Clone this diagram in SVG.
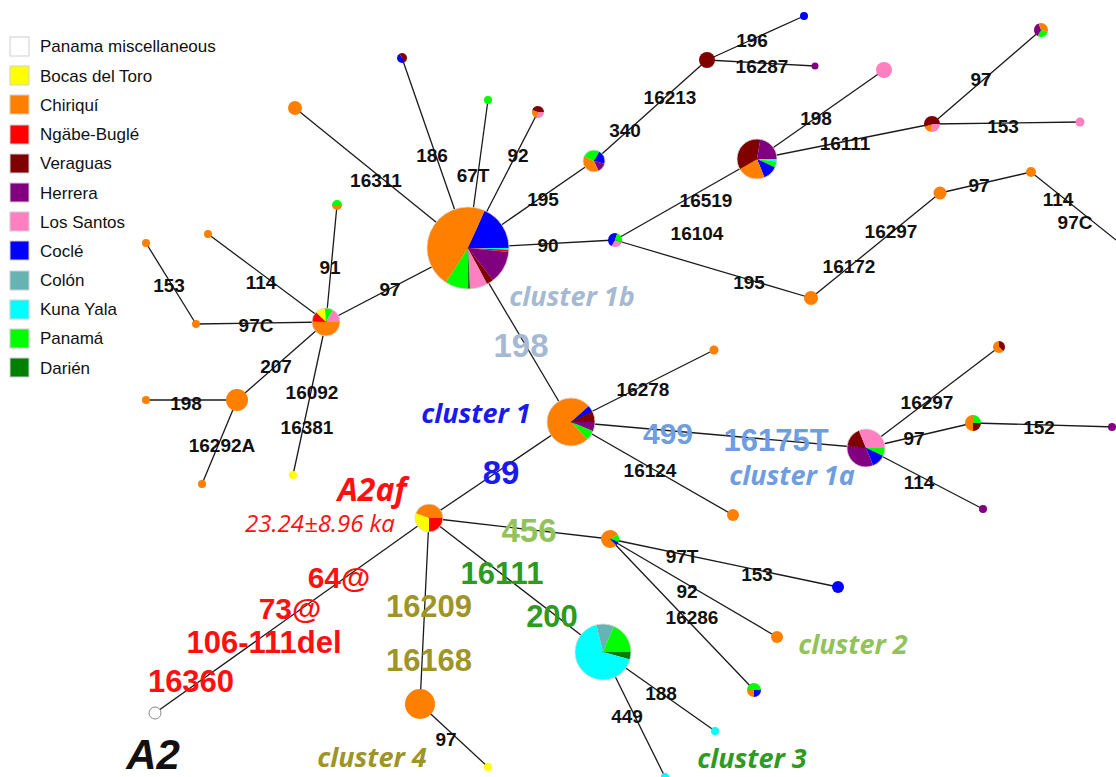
<svg xmlns="http://www.w3.org/2000/svg" width="1116" height="777" viewBox="0 0 1116 777">
<style>
.bg{fill:#fff}
.e{stroke:#1a1a1a;stroke-width:1.3;fill:none}
.lg rect{stroke:#d0d0d0;stroke-width:1}
.lg text{font-family:"Liberation Sans",Arial,sans-serif;font-size:17px;fill:#111}
.l{font-family:"Liberation Sans",Arial,sans-serif;font-weight:bold;font-size:19px;fill:#111;text-anchor:middle}
.b{font-family:"Liberation Sans",Arial,sans-serif;font-weight:bold;font-size:31px;text-anchor:middle}
.c{font-family:"Open Sans","Liberation Sans",sans-serif;font-weight:bold;font-style:italic;font-size:27px;text-anchor:middle}
.s{fill:none}
.o{fill:none;stroke:#d8d8d8;stroke-width:0.8}
.fw{fill:#fff}.fby{fill:#ffff00}.fch{fill:#ff8000}.fng{fill:#ff0000}.fve{fill:#800000}.fhe{fill:#800080}.fls{fill:#ff80c0}.fco{fill:#0000ff}.fcl{fill:#66b3b3}.fky{fill:#00ffff}.fpa{fill:#00ff00}.fda{fill:#008000}
.sby{stroke:#ffff00}.sch{stroke:#ff8000}.sng{stroke:#ff0000}.sve{stroke:#800000}.she{stroke:#800080}.sls{stroke:#ff80c0}.sco{stroke:#0000ff}.scl{stroke:#66b3b3}.sky{stroke:#00ffff}.spa{stroke:#00ff00}.sda{stroke:#008000}
.k1b{fill:#a6b9d3}.k1{fill:#1a1aee}.k1a{fill:#6e9de0}.k2{fill:#92c35a}.k3{fill:#2f9a20}.k4{fill:#9e9428}.kr{fill:#ff1010}
</style>
<rect class="bg" x="0" y="0" width="1116" height="777"/>

<g id="legend" class="lg">
<rect class="fw" x="10" y="37" width="19" height="19"/><text x="40" y="52">Panama miscellaneous</text>
<rect class="fby" x="10" y="66" width="19" height="19"/><text x="40" y="82">Bocas del Toro</text>
<rect class="fch" x="10" y="95" width="19" height="19"/><text x="40" y="111">Chiriquí</text>
<rect class="fng" x="10" y="125" width="19" height="19"/><text x="40" y="140">Ngäbe-Buglé</text>
<rect class="fve" x="10" y="154" width="19" height="19"/><text x="40" y="169">Veraguas</text>
<rect class="fhe" x="10" y="183" width="19" height="19"/><text x="40" y="199">Herrera</text>
<rect class="fls" x="10" y="212" width="19" height="19"/><text x="40" y="228">Los Santos</text>
<rect class="fco" x="10" y="241" width="19" height="19"/><text x="40" y="257">Coclé</text>
<rect class="fcl" x="10" y="271" width="19" height="19"/><text x="40" y="286">Colón</text>
<rect class="fky" x="10" y="300" width="19" height="19"/><text x="40" y="315">Kuna Yala</text>
<rect class="fpa" x="10" y="329" width="19" height="19"/><text x="40" y="344">Panamá</text>
<rect class="fda" x="10" y="358" width="19" height="19"/><text x="40" y="374">Darién</text>
</g>

<g id="connectors">
<line class="e" x1="468" y1="248" x2="295" y2="108"/>
<line class="e" x1="468" y1="248" x2="402" y2="58"/>
<line class="e" x1="468" y1="248" x2="488" y2="100"/>
<line class="e" x1="468" y1="248" x2="538" y2="112"/>
<line class="e" x1="468" y1="248" x2="594" y2="161"/>
<line class="e" x1="468" y1="248" x2="615" y2="240"/>
<line class="e" x1="468" y1="248" x2="326" y2="322"/>
<line class="e" x1="468" y1="248" x2="571" y2="422"/>
<line class="e" x1="594" y1="161" x2="707" y2="60"/>
<line class="e" x1="707" y1="60" x2="804" y2="16"/>
<line class="e" x1="707" y1="60" x2="815" y2="66"/>
<line class="e" x1="615" y1="240" x2="757" y2="159"/>
<line class="e" x1="757" y1="159" x2="884" y2="70"/>
<line class="e" x1="757" y1="159" x2="932" y2="124"/>
<line class="e" x1="932" y1="124" x2="1041" y2="30"/>
<line class="e" x1="932" y1="124" x2="1080" y2="122"/>
<line class="e" x1="615" y1="240" x2="811" y2="298"/>
<line class="e" x1="811" y1="298" x2="940" y2="193"/>
<line class="e" x1="940" y1="193" x2="1031" y2="172"/>
<line class="e" x1="1031" y1="172" x2="1116" y2="240"/>
<line class="e" x1="146" y1="243" x2="196" y2="324"/>
<line class="e" x1="196" y1="324" x2="326" y2="322"/>
<line class="e" x1="208" y1="234" x2="326" y2="322"/>
<line class="e" x1="326" y1="322" x2="337" y2="205"/>
<line class="e" x1="326" y1="322" x2="237" y2="400"/>
<line class="e" x1="237" y1="400" x2="146" y2="400"/>
<line class="e" x1="237" y1="400" x2="202" y2="484"/>
<line class="e" x1="326" y1="322" x2="293" y2="475"/>
<line class="e" x1="571" y1="422" x2="714" y2="350"/>
<line class="e" x1="571" y1="422" x2="733" y2="515"/>
<line class="e" x1="571" y1="422" x2="866" y2="448"/>
<line class="e" x1="571" y1="422" x2="429" y2="518"/>
<line class="e" x1="866" y1="448" x2="999" y2="347"/>
<line class="e" x1="866" y1="448" x2="973" y2="423"/>
<line class="e" x1="973" y1="423" x2="1116" y2="427"/>
<line class="e" x1="866" y1="448" x2="983" y2="509"/>
<line class="e" x1="429" y1="518" x2="610" y2="539"/>
<line class="e" x1="610" y1="539" x2="838" y2="587"/>
<line class="e" x1="610" y1="539" x2="777" y2="637"/>
<line class="e" x1="610" y1="539" x2="754" y2="690"/>
<line class="e" x1="429" y1="518" x2="603" y2="652"/>
<line class="e" x1="603" y1="652" x2="715" y2="731"/>
<line class="e" x1="603" y1="652" x2="665" y2="777"/>
<line class="e" x1="429" y1="518" x2="420" y2="704"/>
<line class="e" x1="420" y1="704" x2="488" y2="767"/>
<line class="e" x1="429" y1="518" x2="155" y2="713"/>
</g>

<g id="n-big" transform="translate(468,248)">
<circle class="s sco" r="20.5" stroke-width="41" pathLength="360" stroke-dasharray="66 360" stroke-dashoffset="-294"/>
<circle class="s sky" r="20.5" stroke-width="41" pathLength="360" stroke-dasharray="2.5 360" stroke-dashoffset="0"/>
<circle class="s sng" r="20.5" stroke-width="41" pathLength="360" stroke-dasharray="3.5 360" stroke-dashoffset="-2.5"/>
<circle class="s she" r="20.5" stroke-width="41" pathLength="360" stroke-dasharray="46 360" stroke-dashoffset="-6"/>
<circle class="s sve" r="20.5" stroke-width="41" pathLength="360" stroke-dasharray="10 360" stroke-dashoffset="-52"/>
<circle class="s sls" r="20.5" stroke-width="41" pathLength="360" stroke-dasharray="25 360" stroke-dashoffset="-62"/>
<circle class="s sda" r="20.5" stroke-width="41" pathLength="360" stroke-dasharray="3 360" stroke-dashoffset="-87"/>
<circle class="s spa" r="20.5" stroke-width="41" pathLength="360" stroke-dasharray="33 360" stroke-dashoffset="-90"/>
<circle class="s sch" r="20.5" stroke-width="41" pathLength="360" stroke-dasharray="171 360" stroke-dashoffset="-123"/>
<circle class="o" r="41"/>
</g>

<g id="n-hub" transform="translate(326,322)">
<circle class="s sch" r="7" stroke-width="14" pathLength="360" stroke-dasharray="183 360" stroke-dashoffset="0"/>
<circle class="s sng" r="7" stroke-width="14" pathLength="360" stroke-dasharray="42 360" stroke-dashoffset="-183"/>
<circle class="s sby" r="7" stroke-width="14" pathLength="360" stroke-dasharray="40 360" stroke-dashoffset="-225"/>
<circle class="s spa" r="7" stroke-width="14" pathLength="360" stroke-dasharray="35 360" stroke-dashoffset="-265"/>
<circle class="s sls" r="7" stroke-width="14" pathLength="360" stroke-dasharray="60 360" stroke-dashoffset="-300"/>
<circle class="o" r="14"/>
</g>

<g id="n-a2af" transform="translate(429,518)">
<circle class="s sng" r="7" stroke-width="14" pathLength="360" stroke-dasharray="90 360" stroke-dashoffset="0"/>
<circle class="s sby" r="7" stroke-width="14" pathLength="360" stroke-dasharray="110 360" stroke-dashoffset="-90"/>
<circle class="s sch" r="7" stroke-width="14" pathLength="360" stroke-dasharray="160 360" stroke-dashoffset="-200"/>
<circle class="o" r="14"/>
</g>

<g id="n-c1" transform="translate(571,422)">
<circle class="s she" r="12" stroke-width="24" pathLength="360" stroke-dasharray="23 360" stroke-dashoffset="0"/>
<circle class="s spa" r="12" stroke-width="24" pathLength="360" stroke-dasharray="24 360" stroke-dashoffset="-23"/>
<circle class="s sch" r="12" stroke-width="24" pathLength="360" stroke-dasharray="271 360" stroke-dashoffset="-47"/>
<circle class="s sco" r="12" stroke-width="24" pathLength="360" stroke-dasharray="15 360" stroke-dashoffset="-318"/>
<circle class="s sve" r="12" stroke-width="24" pathLength="360" stroke-dasharray="27 360" stroke-dashoffset="-333"/>
<circle class="o" r="24"/>
</g>

<g id="n-c1a" transform="translate(866,448)">
<circle class="s spa" r="9.5" stroke-width="19" pathLength="360" stroke-dasharray="25 360" stroke-dashoffset="0"/>
<circle class="s sco" r="9.5" stroke-width="19" pathLength="360" stroke-dasharray="43 360" stroke-dashoffset="-25"/>
<circle class="s she" r="9.5" stroke-width="19" pathLength="360" stroke-dasharray="120 360" stroke-dashoffset="-68"/>
<circle class="s sve" r="9.5" stroke-width="19" pathLength="360" stroke-dasharray="60 360" stroke-dashoffset="-188"/>
<circle class="s sls" r="9.5" stroke-width="19" pathLength="360" stroke-dasharray="112 360" stroke-dashoffset="-248"/>
<circle class="o" r="19"/>
</g>

<g id="n-c3" transform="translate(603,652)">
<circle class="s sda" r="14" stroke-width="28" pathLength="360" stroke-dasharray="16 360" stroke-dashoffset="0"/>
<circle class="s sky" r="14" stroke-width="28" pathLength="360" stroke-dasharray="240 360" stroke-dashoffset="-16"/>
<circle class="s scl" r="14" stroke-width="28" pathLength="360" stroke-dasharray="37 360" stroke-dashoffset="-256"/>
<circle class="s spa" r="14" stroke-width="28" pathLength="360" stroke-dasharray="67 360" stroke-dashoffset="-293"/>
<circle class="o" r="28"/>
</g>

<g id="n-ver" transform="translate(757,159)">
<circle class="s sky" r="10" stroke-width="20" pathLength="360" stroke-dasharray="8 360" stroke-dashoffset="0"/>
<circle class="s spa" r="10" stroke-width="20" pathLength="360" stroke-dasharray="17 360" stroke-dashoffset="-8"/>
<circle class="s sco" r="10" stroke-width="20" pathLength="360" stroke-dasharray="43 360" stroke-dashoffset="-25"/>
<circle class="s sch" r="10" stroke-width="20" pathLength="360" stroke-dasharray="82 360" stroke-dashoffset="-68"/>
<circle class="s sve" r="10" stroke-width="20" pathLength="360" stroke-dasharray="130 360" stroke-dashoffset="-150"/>
<circle class="s she" r="10" stroke-width="20" pathLength="360" stroke-dasharray="80 360" stroke-dashoffset="-280"/>
<circle class="o" r="20"/>
</g>

<g id="n-195" transform="translate(594,161)">
<circle class="s sco" r="5.5" stroke-width="11" pathLength="360" stroke-dasharray="15 360" stroke-dashoffset="0"/>
<circle class="s she" r="5.5" stroke-width="11" pathLength="360" stroke-dasharray="50 360" stroke-dashoffset="-15"/>
<circle class="s sch" r="5.5" stroke-width="11" pathLength="360" stroke-dasharray="140 360" stroke-dashoffset="-65"/>
<circle class="s spa" r="5.5" stroke-width="11" pathLength="360" stroke-dasharray="95 360" stroke-dashoffset="-205"/>
<circle class="s sco" r="5.5" stroke-width="11" pathLength="360" stroke-dasharray="60 360" stroke-dashoffset="-300"/>
<circle class="o" r="11"/>
</g>

<g id="n-932" transform="translate(932,124)">
<circle class="s sls" r="4" stroke-width="8" pathLength="360" stroke-dasharray="95 360" stroke-dashoffset="0"/>
<circle class="s sch" r="4" stroke-width="8" pathLength="360" stroke-dasharray="65 360" stroke-dashoffset="-95"/>
<circle class="s sve" r="4" stroke-width="8" pathLength="360" stroke-dasharray="200 360" stroke-dashoffset="-160"/>
</g>

<g id="n-973" transform="translate(973,423)">
<circle class="s sve" r="4" stroke-width="8" pathLength="360" stroke-dasharray="90 360" stroke-dashoffset="0"/>
<circle class="s sch" r="4" stroke-width="8" pathLength="360" stroke-dasharray="180 360" stroke-dashoffset="-90"/>
<circle class="s spa" r="4" stroke-width="8" pathLength="360" stroke-dasharray="90 360" stroke-dashoffset="-270"/>
</g>

<g id="n-1041" transform="translate(1041,30)">
<circle class="s sch" r="3.5" stroke-width="7" pathLength="360" stroke-dasharray="15 360" stroke-dashoffset="0"/>
<circle class="s spa" r="3.5" stroke-width="7" pathLength="360" stroke-dasharray="105 360" stroke-dashoffset="-15"/>
<circle class="s she" r="3.5" stroke-width="7" pathLength="360" stroke-dasharray="130 360" stroke-dashoffset="-120"/>
<circle class="s sch" r="3.5" stroke-width="7" pathLength="360" stroke-dasharray="110 360" stroke-dashoffset="-250"/>
</g>

<g id="n-999" transform="translate(999,347)">
<circle class="s sve" r="3" stroke-width="6" pathLength="360" stroke-dasharray="45 360" stroke-dashoffset="0"/>
<circle class="s sch" r="3" stroke-width="6" pathLength="360" stroke-dasharray="225 360" stroke-dashoffset="-45"/>
<circle class="s sve" r="3" stroke-width="6" pathLength="360" stroke-dasharray="90 360" stroke-dashoffset="-270"/>
</g>

<g id="n-337" transform="translate(337,205)">
<circle class="s sch" r="2.5" stroke-width="5" pathLength="360" stroke-dasharray="180 360" stroke-dashoffset="0"/>
<circle class="s spa" r="2.5" stroke-width="5" pathLength="360" stroke-dasharray="180 360" stroke-dashoffset="-180"/>
</g>

<g id="n-402" transform="translate(402,58)">
<circle class="s sco" r="2.5" stroke-width="5" pathLength="360" stroke-dasharray="180 360" stroke-dashoffset="-60"/>
<circle class="s sve" r="2.5" stroke-width="5" pathLength="360" stroke-dasharray="120 360" stroke-dashoffset="-240"/>
<circle class="s sve" r="2.5" stroke-width="5" pathLength="360" stroke-dasharray="60 360" stroke-dashoffset="0"/>
</g>

<g id="n-538" transform="translate(538,112)">
<circle class="s sls" r="3" stroke-width="6" pathLength="360" stroke-dasharray="100 360" stroke-dashoffset="0"/>
<circle class="s sch" r="3" stroke-width="6" pathLength="360" stroke-dasharray="100 360" stroke-dashoffset="-100"/>
<circle class="s sve" r="3" stroke-width="6" pathLength="360" stroke-dasharray="160 360" stroke-dashoffset="-200"/>
</g>

<g id="n-615" transform="translate(615,240)">
<circle class="s sls" r="3.5" stroke-width="7" pathLength="360" stroke-dasharray="100 360" stroke-dashoffset="-20"/>
<circle class="s sco" r="3.5" stroke-width="7" pathLength="360" stroke-dasharray="170 360" stroke-dashoffset="-120"/>
<circle class="s spa" r="3.5" stroke-width="7" pathLength="360" stroke-dasharray="70 360" stroke-dashoffset="-290"/>
<circle class="s spa" r="3.5" stroke-width="7" pathLength="360" stroke-dasharray="20 360" stroke-dashoffset="0"/>
</g>

<g id="n-610" transform="translate(610,539)">
<circle class="s spa" r="4.5" stroke-width="9" pathLength="360" stroke-dasharray="20 360" stroke-dashoffset="0"/>
<circle class="s sco" r="4.5" stroke-width="9" pathLength="360" stroke-dasharray="25 360" stroke-dashoffset="-20"/>
<circle class="s sch" r="4.5" stroke-width="9" pathLength="360" stroke-dasharray="285 360" stroke-dashoffset="-45"/>
<circle class="s spa" r="4.5" stroke-width="9" pathLength="360" stroke-dasharray="30 360" stroke-dashoffset="-330"/>
</g>

<g id="n-754" transform="translate(754,690)">
<circle class="s sco" r="3.5" stroke-width="7" pathLength="360" stroke-dasharray="90 360" stroke-dashoffset="0"/>
<circle class="s sch" r="3.5" stroke-width="7" pathLength="360" stroke-dasharray="90 360" stroke-dashoffset="-90"/>
<circle class="s spa" r="3.5" stroke-width="7" pathLength="360" stroke-dasharray="180 360" stroke-dashoffset="-180"/>
</g>

<g id="n-solid">
<circle class="fls" cx="884" cy="70" r="8"/>
<circle class="fve" cx="707" cy="60" r="8"/>
<circle class="fco" cx="804" cy="16" r="4"/>
<circle class="fhe" cx="815" cy="66" r="3.5"/>
<circle class="fls" cx="1080" cy="122" r="4.5"/>
<circle class="fch" cx="940" cy="193" r="6.5"/>
<circle class="fch" cx="1031" cy="172" r="5"/>
<circle class="fch" cx="811" cy="298" r="7"/>
<circle class="fch" cx="714" cy="350" r="4.5"/>
<circle class="fch" cx="733" cy="515" r="6"/>
<circle class="fhe" cx="1112" cy="427" r="4"/>
<circle class="fhe" cx="983" cy="509" r="4"/>
<circle class="fco" cx="838" cy="587" r="6"/>
<circle class="fch" cx="777" cy="637" r="6"/>
<circle class="fky" cx="715" cy="731" r="4"/>
<circle class="fky" cx="665" cy="777" r="4"/>
<circle class="fby" cx="488" cy="767" r="4"/>
<circle class="fch" cx="420" cy="704" r="15"/>
<circle class="fw" cx="155" cy="713" r="6" stroke="#888" stroke-width="1"/>
<circle class="fch" cx="295" cy="108" r="7"/>
<circle class="fpa" cx="488" cy="100" r="4"/>
<circle class="fch" cx="146" cy="243" r="4"/>
<circle class="fch" cx="208" cy="234" r="4"/>
<circle class="fch" cx="196" cy="324" r="4"/>
<circle class="fby" cx="293" cy="475" r="4"/>
<circle class="fch" cx="237" cy="400" r="11"/>
<circle class="fch" cx="146" cy="400" r="4"/>
<circle class="fch" cx="202" cy="484" r="4"/>
</g>

<g id="labels">
<text class="l" x="376" y="187">16311</text>
<text class="l" x="432" y="162">186</text>
<text class="l" x="473" y="182">67T</text>
<text class="l" x="518" y="162">92</text>
<text class="l" x="543" y="206">195</text>
<text class="l" x="625" y="137">340</text>
<text class="l" x="670" y="104">16213</text>
<text class="l" x="752" y="47">196</text>
<text class="l" x="762" y="73">16287</text>
<text class="l" x="816" y="125">198</text>
<text class="l" x="845" y="150">16111</text>
<text class="l" x="981" y="86">97</text>
<text class="l" x="1003" y="133">153</text>
<text class="l" x="706" y="207">16519</text>
<text class="l" x="548" y="252">90</text>
<text class="l" x="697" y="240">16104</text>
<text class="l" x="749" y="289">195</text>
<text class="l" x="849" y="273">16172</text>
<text class="l" x="891" y="238">16297</text>
<text class="l" x="979" y="192">97</text>
<text class="l" x="1058" y="206">114</text>
<text class="l" x="1075" y="229">97C</text>
<text class="l" x="643" y="396">16278</text>
<text class="l" x="650" y="477">16124</text>
<text class="l" x="927" y="409">16297</text>
<text class="l" x="914" y="445">97</text>
<text class="l" x="1039" y="434">152</text>
<text class="l" x="919" y="489">114</text>
<text class="l" x="682" y="563">97T</text>
<text class="l" x="757" y="581">153</text>
<text class="l" x="687" y="598">92</text>
<text class="l" x="692" y="624">16286</text>
<text class="l" x="661" y="700">188</text>
<text class="l" x="627" y="723">449</text>
<text class="l" x="446" y="746">97</text>
<text class="l" x="169" y="292">153</text>
<text class="l" x="261" y="289">114</text>
<text class="l" x="330" y="274">91</text>
<text class="l" x="390" y="296">97</text>
<text class="l" x="256" y="332">97C</text>
<text class="l" x="276" y="373">207</text>
<text class="l" x="312" y="399">16092</text>
<text class="l" x="307" y="434">16381</text>
<text class="l" x="186" y="410">198</text>
<text class="l" x="222" y="452">16292A</text>

<text class="b k1b" x="521" y="357" style="font-size:33px">198</text>
<text class="b k1" x="501" y="484" style="font-size:33px">89</text>
<text class="b k1a" x="668" y="444" style="font-size:30px">499</text>
<text class="b k1a" x="776" y="451">16175T</text>
<text class="b k2" x="529" y="542" style="font-size:33px">456</text>
<text class="b k3" x="502" y="584">16111</text>
<text class="b k3" x="552" y="627">200</text>
<text class="b k4" x="429" y="617">16209</text>
<text class="b k4" x="429" y="671">16168</text>
<text class="b kr" x="339" y="588" style="font-size:30px">64@</text>
<text class="b kr" x="290" y="619" style="font-size:30px">73@</text>
<text class="b kr" x="264" y="653" style="font-size:31px">106-111del</text>
<text class="b kr" x="191" y="692">16360</text>

<text class="c k1b" x="572" y="306">cluster 1b</text>
<text class="c k1" x="476" y="423">cluster 1</text>
<text class="c k1a" x="792" y="485">cluster 1a</text>
<text class="c k2" x="853" y="654">cluster 2</text>
<text class="c k3" x="752" y="768">cluster 3</text>
<text class="c k4" x="372" y="767">cluster 4</text>
<text class="c kr" x="372" y="501" style="font-size:32px">A2af</text>
<text class="kr" x="320" y="532" text-anchor="middle" style="font-family:'Open Sans','Liberation Sans',sans-serif;font-style:italic;font-size:24px">23.24±8.96 ka</text>
<text x="153" y="769" text-anchor="middle" style="font-family:'Liberation Sans',Arial,sans-serif;font-weight:bold;font-style:italic;font-size:42px;fill:#111">A2</text>
</g>
</svg>
